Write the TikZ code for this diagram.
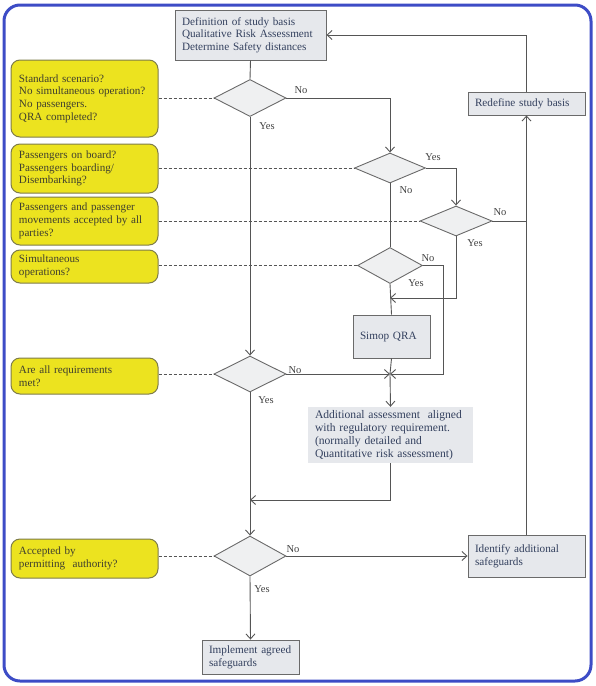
\documentclass[tikz,border=0pt]{standalone}
\usepackage{fontspec}
\setmainfont{Liberation Serif}
\usetikzlibrary{shapes.geometric,arrows.meta}
\definecolor{frameblue}{HTML}{3D4CC6}
\definecolor{ybox}{HTML}{ECE31F}
\definecolor{yborder}{HTML}{7E7C4A}
\definecolor{ytext}{HTML}{3F3F2E}
\definecolor{gbox}{HTML}{E6E8EC}
\definecolor{gborder}{HTML}{6A6A6A}
\definecolor{btext}{HTML}{33405E}
\definecolor{lgray}{HTML}{555555}
\begin{document}
\begin{tikzpicture}[x=1pt,y=-1pt,
  ybx/.style={draw=yborder,line width=1pt,fill=ybox,rounded corners=9pt,text=ytext,
    align=left,inner xsep=8pt,font=\fontsize{11.1}{12.7}\selectfont,minimum width=147pt,text width=131pt},
  gbx/.style={draw=gborder,line width=0.9pt,fill=gbox,text=btext,align=left,inner xsep=7pt,
    font=\fontsize{11.2}{12.7}\selectfont},
  dia/.style={diamond,draw=gborder,line width=0.9pt,fill=gbox!85!gray!40,inner sep=0pt},
  arr/.style={draw=lgray,line width=0.9pt,-{Straight Barb[length=5pt,width=9pt]}},
  ln/.style={draw=lgray,line width=0.9pt},
  dsh/.style={draw=lgray,line width=0.8pt,dash pattern=on 3pt off 2pt},
  lab/.style={text=black!75,font=\fontsize{10.5}{12}\selectfont,inner sep=0pt}]
\useasboundingbox (0,0) rectangle (595,686);
\draw[frameblue,line width=3pt,rounded corners=16pt] (4,5) rectangle (591,681);

% yellow boxes
\node[ybx,minimum height=77pt] (y1) at (84.5,98.5) {Standard scenario?\\No simultaneous operation?\\No passengers.\\QRA completed?};
\node[ybx,minimum height=49pt] (y2) at (84.5,168.5) {Passengers on board?\\Passengers boarding/\\Disembarking?};
\node[ybx,minimum height=48pt] (y3) at (84.5,221) {Passengers and passenger\\movements accepted by all\\parties?};
\node[ybx,minimum height=33pt] (y4) at (84.5,266.5) {Simultaneous\\operations?};
\node[ybx,minimum height=36pt] (y5) at (84.5,376) {Are all requirements\\met?};
\node[ybx,minimum height=39pt] (y6) at (84.5,558.5) {Accepted by\\permitting\ \ authority?};

% grey boxes
\node[gbx,minimum width=151pt,minimum height=50pt,text width=137pt] (top) at (250.5,35) {Definition of study basis\\Qualitative Risk Assessment\\Determine Safety distances};
\node[gbx,minimum width=117pt,minimum height=23pt,text width=103pt] (redef) at (526.5,103.5) {Redefine study basis};
\node[gbx,minimum width=117pt,minimum height=42pt,text width=103pt] (ident) at (526.5,556) {Identify additional\\safeguards\\[-4pt]};
\node[gbx,minimum width=97pt,minimum height=34pt,text width=83pt] (impl) at (250.5,657) {Implement agreed\\safeguards};
\node[gbx,minimum width=77pt,minimum height=43pt,text width=63pt] (simop) at (391.5,336.5) {Simop QRA\\[14pt]};
\node[fill=gbox,text=btext,align=left,inner xsep=7pt,font=\fontsize{11.6}{12.9}\selectfont,
  minimum width=165pt,minimum height=56pt,text width=151pt] (add) at (390.5,435) {Additional assessment\ \ aligned\\with regulatory requirement.\\(normally detailed and\\Quantitative risk assessment)};

% diamonds
\node[dia,minimum width=72pt,minimum height=37pt] (d1) at (250,98) {};
\node[dia,minimum width=71pt,minimum height=30pt] (d2) at (390,168) {};
\node[dia,minimum width=72pt,minimum height=30pt] (d3) at (456,221) {};
\node[dia,minimum width=65pt,minimum height=36pt] (d4) at (390,265.5) {};
\node[dia,minimum width=72pt,minimum height=36pt] (d5) at (250,374) {};
\node[dia,minimum width=72pt,minimum height=40pt] (d6) at (250,556) {};

% coordinates
\coordinate (j1) at (390,298);
\coordinate (j2) at (390,374);
\coordinate (c1) at (443,374);
\coordinate (j3) at (250,500);

% dashed links
\draw[dsh] (y1.east |- d1.west) -- (d1.west);
\draw[dsh] (y2.east |- d2.west) -- (d2.west);
\draw[dsh] (y3.east |- d3.west) -- (d3.west);
\draw[dsh] (y4.east |- d4.west) -- (d4.west);
\draw[dsh] (y5.east |- d5.west) -- (d5.west);
\draw[dsh] (y6.east |- d6.west) -- (d6.west);

% connectors
\draw[ln] (top.south) -- (d1.north);
\draw[arr] (d1.south) -- (d5.north);
\draw[arr] (d1.east) -| (d2.north);
\draw[arr] (d2.east) -| (d3.north);
\draw[ln] (d2.south) -- (d4.north);
\draw[ln] (d3.east) -- (d3.east -| redef.south);
\draw[arr] (d3.south) |- (j1);
\draw[ln] (d4.south) -- (simop.north);
\draw[arr] (d4.east) -| (c1) -- (j2);
\draw[ln] (simop.south) -- (j2);
\draw[arr] (d5.east) -- (j2);
\draw[arr] (j2) -- (add.north);
\draw[arr] (add.south) |- (j3);
\draw[arr] (d5.south) -- (d6.north);
\draw[arr] (d6.east) -- (d6.east -| ident.west);
\draw[arr] (d6.south) -- (impl.north);
\draw[arr] (ident.north) -- (redef.south);
\draw[arr] (redef.north) |- (top.east);

% labels
\node[lab] (l1) at (301,90) {No};
\node[lab] (l2) at (267,126) {Yes};
\node[lab] (l3) at (433,157) {Yes};
\node[lab] (l4) at (406,190) {No};
\node[lab] (l5) at (500,212) {No};
\node[lab] (l6) at (475,243) {Yes};
\node[lab] (l7) at (428,258) {No};
\node[lab] (l8) at (416,283) {Yes};
\node[lab] (l9) at (295,370) {No};
\node[lab] (l10) at (266,400) {Yes};
\node[lab] (l11) at (293,549) {No};
\node[lab] (l12) at (262,589) {Yes};
\end{tikzpicture}
\end{document}
